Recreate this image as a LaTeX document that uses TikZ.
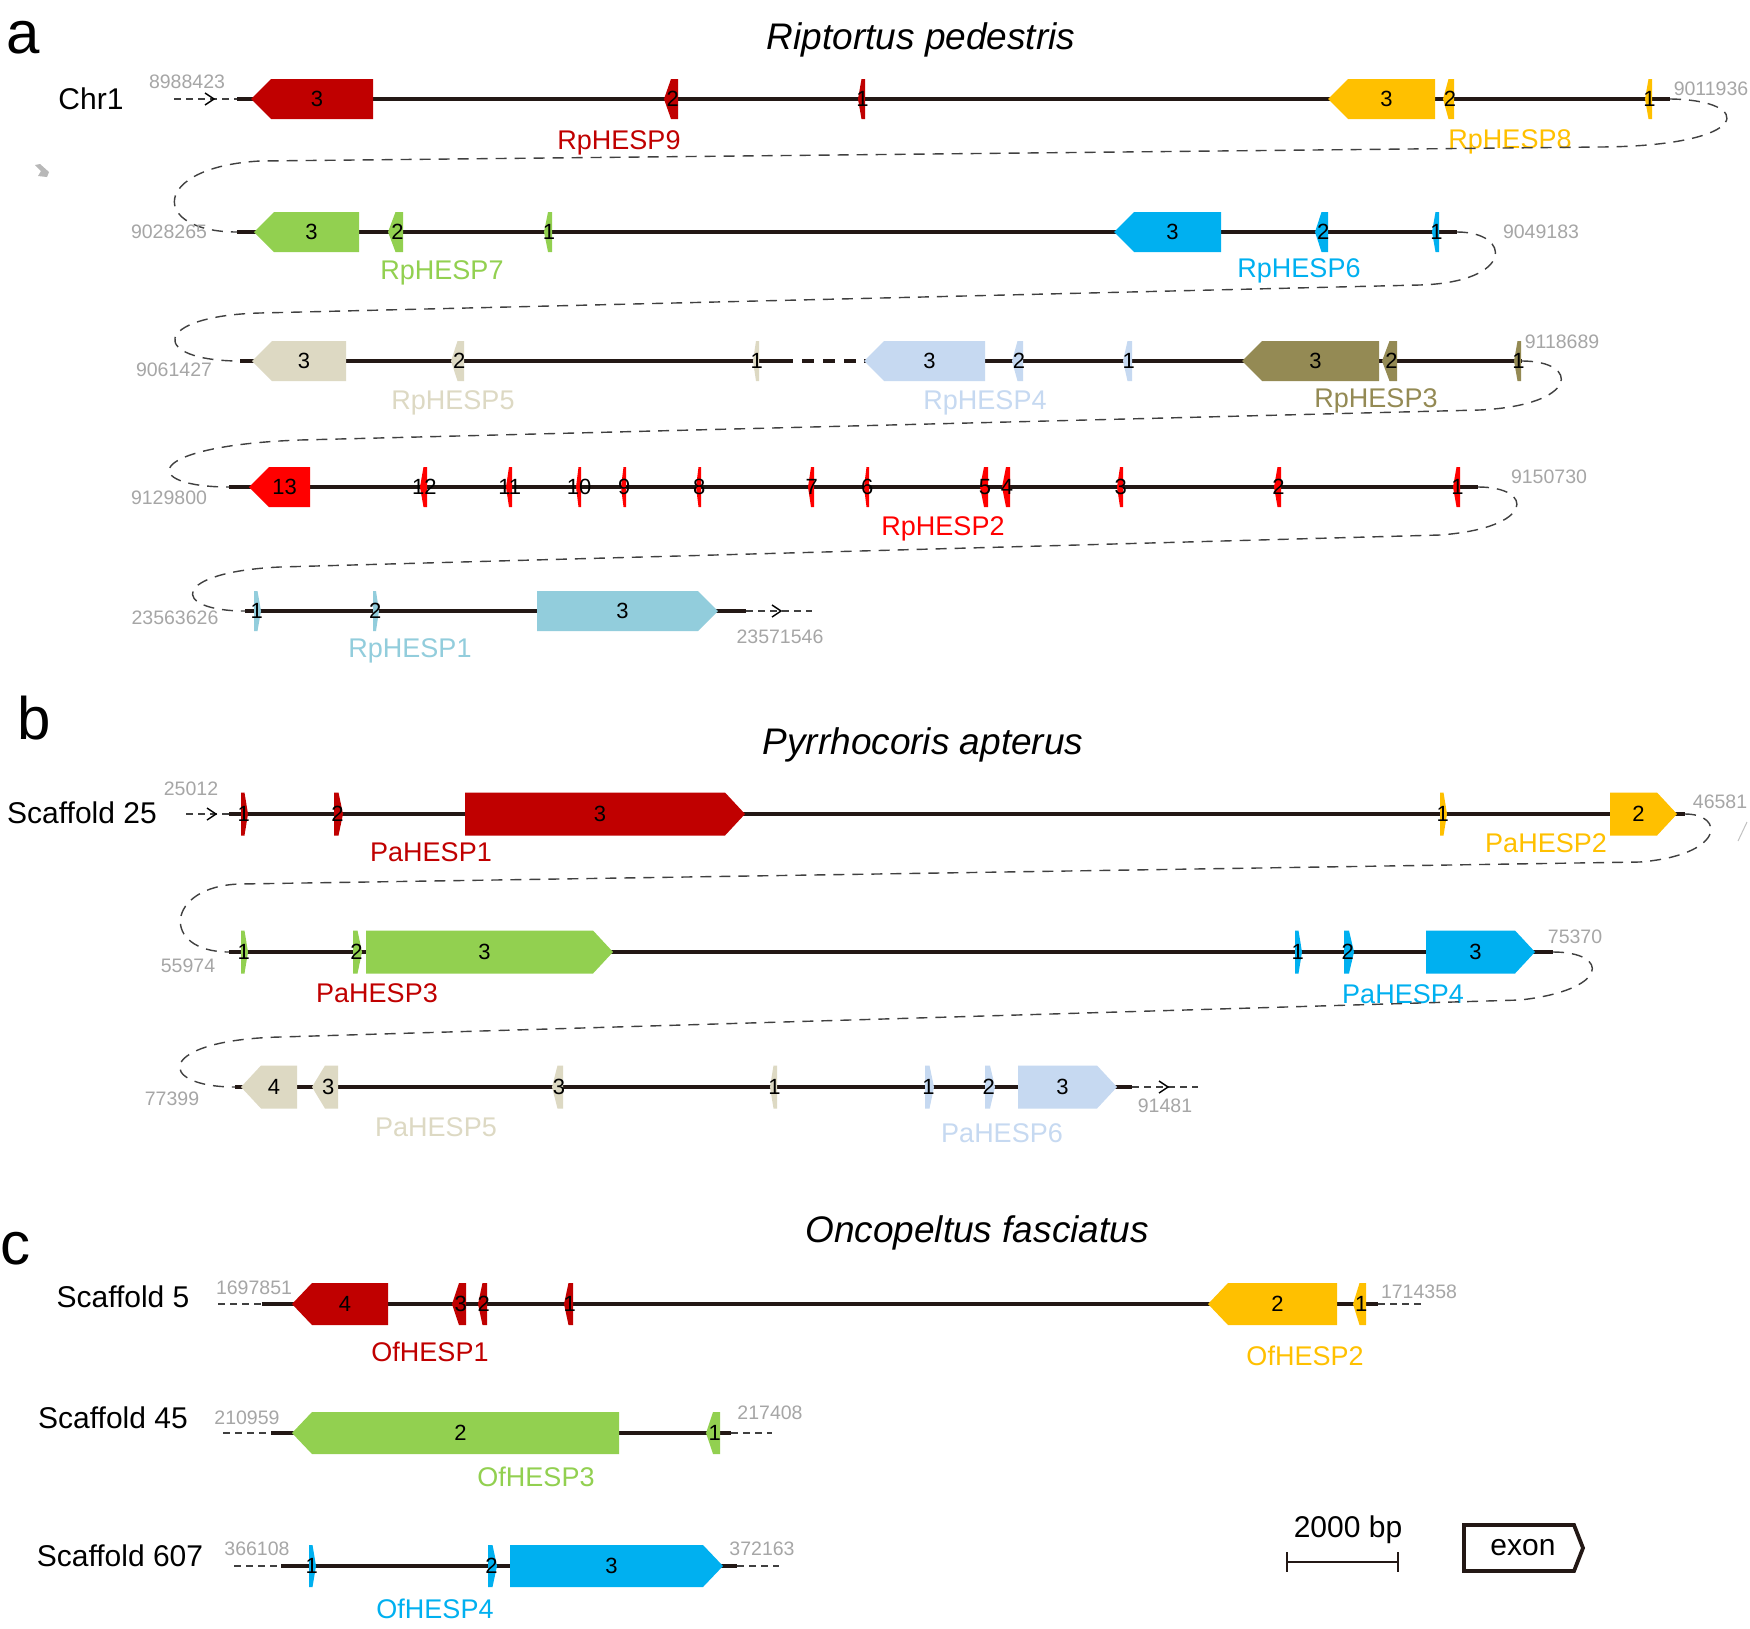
\documentclass[tikz,border=0pt]{standalone}
\usepackage{fontspec}
\setmainfont{Liberation Sans}
\definecolor{cdred}{HTML}{C00000}
\definecolor{cyel}{HTML}{FFC000}
\definecolor{cgrn}{HTML}{92D050}
\definecolor{cblu}{HTML}{00B0F0}
\definecolor{cbei}{HTML}{DDD9C3}
\definecolor{cltb}{HTML}{C6D9F1}
\definecolor{colv}{HTML}{948A54}
\definecolor{cred}{HTML}{FF0000}
\definecolor{ccyn}{HTML}{92CDDC}
\definecolor{numgray}{HTML}{A6A6A6}
\definecolor{linec}{HTML}{231815}
\definecolor{loopc}{HTML}{404040}
\newcount\exc
\def\exh{20}
\newcommand{\exonL}[5]{%
  \pgfmathsetmacro{\extp}{min(20,0.5*(#2-#1))}%
  \global\advance\exc by 1\relax
  \fill[#4] (#1,#3) -- ({#1+\extp},{#3-\exh}) -- (#2,{#3-\exh}) -- (#2,{#3+\exh}) -- ({#1+\extp},{#3+\exh}) -- cycle;
  \node[exnum] (ex\the\exc) at ({(#1+#2)/2+\extp/4},#3) {#5};
}
\newcommand{\exonR}[5]{%
  \pgfmathsetmacro{\extp}{min(20,0.5*(#2-#1))}%
  \global\advance\exc by 1\relax
  \fill[#4] (#2,#3) -- ({#2-\extp},{#3-\exh}) -- (#1,{#3-\exh}) -- (#1,{#3+\exh}) -- ({#2-\extp},{#3+\exh}) -- cycle;
  \node[exnum] (ex\the\exc) at ({(#1+#2)/2-\extp/4},#3) {#5};
}
\tikzset{
  intr/.style={line width=3.2pt, draw=linec},
  loopd/.style={line width=1.4pt, draw=loopc, dash pattern=on 11pt off 8pt},
  endd/.style={line width=1.4pt, draw=loopc, dash pattern=on 7pt off 5pt},
  chev/.style={line width=1.4pt, draw=black},
  numg/.style={inner sep=0pt, text=numgray, font=\fontsize{19.5}{19.5}\selectfont},
  exnum/.style={inner sep=0pt, font=\fontsize{22}{22}\selectfont},
  glab/.style={inner sep=0pt, font=\fontsize{27}{27}\selectfont},
  chrlab/.style={inner sep=0pt, font=\fontsize{30}{30}\selectfont},
  ttl/.style={inner sep=0pt, font=\fontsize{37}{37}\selectfont\itshape},
  pan/.style={inner sep=0pt, font=\fontsize{60}{60}\selectfont},
}
\begin{document}
\begin{tikzpicture}[x=1pt,y=-1pt]
\useasboundingbox (0,0) rectangle (1750,1628);
\fill[white] (0,0) rectangle (1750,1628);

% ================= panel a =================
\node[pan] (pa) at (23,38) {a};
\node[ttl] (ta) at (921,40) {Riptortus pedestris};
\fill[numgray!80] (35,165) -- (40,164) -- (49,172) -- (47,177) -- (38,176) -- (41,171) -- cycle;

% row 1
\node[chrlab] (chr1) at (91,99) {Chr1};
\node[numg] (n1) at (187,82) {8988423};
\node[numg] (n2) at (1711,89) {9011936};
\draw[endd] (174,99) -- (237,99);
\draw[chev] (205,93) -- (214,99) -- (205,105);
\draw[intr] (237,99) -- (1670,99);
\def\exh{20}
\exonL{251}{373}{99}{cdred}{3}
\exonL{664}{678}{99}{cdred}{2}
\exonL{858}{865}{99}{cdred}{1}
\exonL{1328}{1435}{99}{cyel}{3}
\exonL{1443}{1454}{99}{cyel}{2}
\exonL{1645}{1652}{99}{cyel}{1}
\node[glab,text=cdred] (g9) at (619,143) {RpHESP9};
\node[glab,text=cyel] (g8) at (1510,142) {RpHESP8};
\draw[loopd] (1670,99) .. controls (1755,100) and (1755,146) .. (1600,147) -- (260,161) .. controls (150,167) and (150,232) .. (237,232);

% row 2
\node[numg] (n3) at (169,232) {9028265};
\node[numg] (n4) at (1541,232) {9049183};
\draw[intr] (237,232) -- (1457,232);
\exonL{254}{359}{232}{cgrn}{3}
\exonL{388}{403}{232}{cgrn}{2}
\exonL{544}{552}{232}{cgrn}{1}
\exonL{1114}{1221}{232}{cblu}{3}
\exonL{1315}{1328}{232}{cblu}{2}
\exonL{1432}{1439}{232}{cblu}{1}
\node[glab,text=cgrn] (g7) at (442,273) {RpHESP7};
\node[glab,text=cblu] (g6) at (1299,271) {RpHESP6};
\draw[loopd] (1457,232) .. controls (1512,232) and (1515,282) .. (1420,285) -- (260,313) .. controls (150,316) and (150,361) .. (240,361);

% row 3
\node[numg] (n5) at (174,370) {9061427};
\node[numg] (n6) at (1562,342) {9118689};
\draw[intr] (240,361) -- (781,361);
\draw[intr,dash pattern=on 12pt off 9pt] (781,361) -- (864,361);
\draw[intr] (864,361) -- (1522,361);
\exonL{252}{346}{361}{cbei}{3}
\exonL{451}{464}{361}{cbei}{2}
\exonL{753}{759}{361}{cbei}{1}
\exonL{864}{985}{361}{cltb}{3}
\exonL{1012}{1023}{361}{cltb}{2}
\exonL{1123}{1132}{361}{cltb}{1}
\exonL{1242}{1379}{361}{colv}{3}
\exonL{1382}{1397}{361}{colv}{2}
\exonL{1514}{1521}{361}{colv}{1}
\node[glab,text=cbei] (g5) at (453,403) {RpHESP5};
\node[glab,text=cltb] (g4) at (985,403) {RpHESP4};
\node[glab,text=colv] (g3) at (1376,401) {RpHESP3};
\draw[loopd] (1522,361) .. controls (1580,361) and (1580,405) .. (1480,410) -- (300,440) .. controls (140,446) and (140,487) .. (229,487);

% row 4
\node[numg] (n7) at (169,498) {9129800};
\node[numg] (n8) at (1549,477) {9150730};
\draw[intr] (229,487) -- (1478,487);
\exonL{249}{310}{487}{cred}{13}
\exonL{420}{427}{487}{cred}{12}
\exonL{506}{512}{487}{cred}{11}
\exonL{576}{581}{487}{cred}{10}
\exonL{621}{626}{487}{cred}{9}
\exonL{696}{701}{487}{cred}{8}
\exonL{808}{814}{487}{cred}{7}
\exonL{864}{869}{487}{cred}{6}
\exonL{980}{988}{487}{cred}{5}
\exonL{1002}{1010}{487}{cred}{4}
\exonL{1117}{1123}{487}{cred}{3}
\exonL{1274}{1281}{487}{cred}{2}
\exonL{1453}{1460}{487}{cred}{1}
\node[glab,text=cred] (g2) at (943,529) {RpHESP2};
\draw[loopd] (1478,487) .. controls (1535,487) and (1535,528) .. (1440,535) -- (280,567) .. controls (170,572) and (170,611) .. (245,611);

% row 5
\node[numg] (n9) at (175,618) {23563626};
\node[numg] (n10) at (780,637) {23571546};
\draw[intr] (245,611) -- (746,611);
\draw[endd] (746,611) -- (812,611);
\draw[chev] (772,605) -- (781,611) -- (772,617);
\exonR{254}{261}{611}{ccyn}{1}
\exonR{373}{379}{611}{ccyn}{2}
\exonR{537}{718}{611}{ccyn}{3}
\node[glab,text=ccyn] (g1) at (410,651) {RpHESP1};

% ================= panel b =================
\node[pan] (pb) at (34,718) {b};
\node[ttl] (tb) at (923,745) {Pyrrhocoris apterus};
\draw[numgray!70, line width=1pt] (1747,822) -- (1738,841);
\def\exh{21.5}
% row b1
\node[chrlab] (s25) at (82,813) {Scaffold 25};
\node[numg] (n11) at (191,789) {25012};
\node[numg] (n12) at (1720,802) {46581};
\draw[endd] (186,814) -- (229,814);
\draw[chev] (207,808) -- (216,814) -- (207,820);
\draw[intr] (229,814) -- (1685,814);
\exonR{241}{248}{814}{cdred}{1}
\exonR{334}{343}{814}{cdred}{2}
\exonR{465}{745}{814}{cdred}{3}
\exonR{1440}{1447}{814}{cyel}{1}
\exonR{1610}{1677}{814}{cyel}{2}
\node[glab,text=cdred] (pg1) at (431,852) {PaHESP1};
\node[glab,text=cyel] (pg2) at (1546,843) {PaHESP2};
\draw[loopd] (1685,814) .. controls (1725,814) and (1725,855) .. (1640,862) -- (240,884) .. controls (165,886) and (160,952) .. (229,952);

% row b2
\node[numg] (n13) at (188,966) {55974};
\node[numg] (n14) at (1575,937) {75370};
\draw[intr] (229,952) -- (1553,952);
\exonR{241}{248}{952}{cgrn}{1}
\exonR{353}{362}{952}{cgrn}{2}
\exonR{366}{613}{952}{cgrn}{3}
\exonR{1295}{1302}{952}{cblu}{1}
\exonR{1344}{1354}{952}{cblu}{2}
\exonR{1426}{1535}{952}{cblu}{3}
\node[glab,text=cdred] (pg3) at (377,993) {PaHESP3};
\node[glab,text=cblu] (pg4) at (1403,994) {PaHESP4};
\draw[loopd] (1553,952) .. controls (1610,952) and (1610,990) .. (1520,1000) -- (280,1037) .. controls (155,1040) and (155,1087) .. (235,1087);

% row b3
\node[numg] (n15) at (172,1099) {77399};
\node[numg] (n16) at (1165,1106) {91481};
\draw[intr] (235,1087) -- (1132,1087);
\draw[endd] (1132,1087) -- (1198,1087);
\draw[chev] (1159,1081) -- (1168,1087) -- (1159,1093);
\exonL{241}{297}{1087}{cbei}{4}
\exonL{312}{338}{1087}{cbei}{3}
\exonL{552}{563}{1087}{cbei}{3}
\exonL{770}{777}{1087}{cbei}{1}
\exonR{925}{934}{1087}{cltb}{1}
\exonR{985}{995}{1087}{cltb}{2}
\exonR{1018}{1117}{1087}{cltb}{3}
\node[glab,text=cbei] (pg5) at (436,1127) {PaHESP5};
\node[glab,text=cltb] (pg6) at (1002,1133) {PaHESP6};

% ================= panel c =================
\node[pan] (pc) at (16,1249) {c};
\node[ttl] (tc) at (977,1233) {Oncopeltus fasciatus};
\def\exh{21}
% row c1
\node[chrlab] (s5) at (123,1297) {Scaffold 5};
\node[numg] (n17) at (254,1288) {1697851};
\node[numg] (n18) at (1419,1292) {1714358};
\draw[endd] (218,1304) -- (262,1304);
\draw[intr] (262,1304) -- (1378,1304);
\draw[endd] (1378,1304) -- (1423,1304);
\exonL{292}{388}{1304}{cdred}{4}
\exonL{452}{466}{1304}{cdred}{3}
\exonL{478}{487}{1304}{cdred}{2}
\exonL{564}{573}{1304}{cdred}{1}
\exonL{1208}{1337}{1304}{cyel}{2}
\exonL{1353}{1366}{1304}{cyel}{1}
\node[glab,text=cdred] (og1) at (430,1352) {OfHESP1};
\node[glab,text=cyel] (og2) at (1305,1356) {OfHESP2};

% row c2
\node[chrlab] (s45) at (113,1418) {Scaffold 45};
\node[numg] (n19) at (247,1418) {210959};
\node[numg] (n20) at (770,1413) {217408};
\draw[endd] (223,1433) -- (271,1433);
\draw[intr] (271,1433) -- (731,1433);
\draw[endd] (731,1433) -- (772,1433);
\exonL{292}{619}{1433}{cgrn}{2}
\exonL{706}{720}{1433}{cgrn}{1}
\node[glab,text=cgrn] (og3) at (536,1477) {OfHESP3};

% row c3
\node[chrlab] (s607) at (120,1556) {Scaffold 607};
\node[numg] (n21) at (257,1549) {366108};
\node[numg] (n22) at (762,1549) {372163};
\draw[endd] (234,1566) -- (281,1566);
\draw[intr] (281,1566) -- (737,1566);
\draw[endd] (737,1566) -- (779,1566);
\exonR{309}{316}{1566}{cblu}{1}
\exonR{488}{497}{1566}{cblu}{2}
\exonR{510}{723}{1566}{cblu}{3}
\node[glab,text=cblu] (og4) at (435,1609) {OfHESP4};

% scale bar and legend
\node[chrlab] (sb) at (1348,1530) {2000 bp};
\draw[line width=2.8pt, draw=linec] (1287,1562) -- (1398,1562);
\draw[line width=2.2pt, draw=linec] (1287,1552) -- (1287,1572);
\draw[line width=2.2pt, draw=linec] (1398,1552) -- (1398,1572);
\draw[line width=3.8pt, draw=linec, fill=white] (1464,1525) -- (1574,1525) -- (1583,1548) -- (1574,1571) -- (1464,1571) -- cycle;
\node[chrlab] (lg) at (1523,1548) {exon};
\end{tikzpicture}
\end{document}
